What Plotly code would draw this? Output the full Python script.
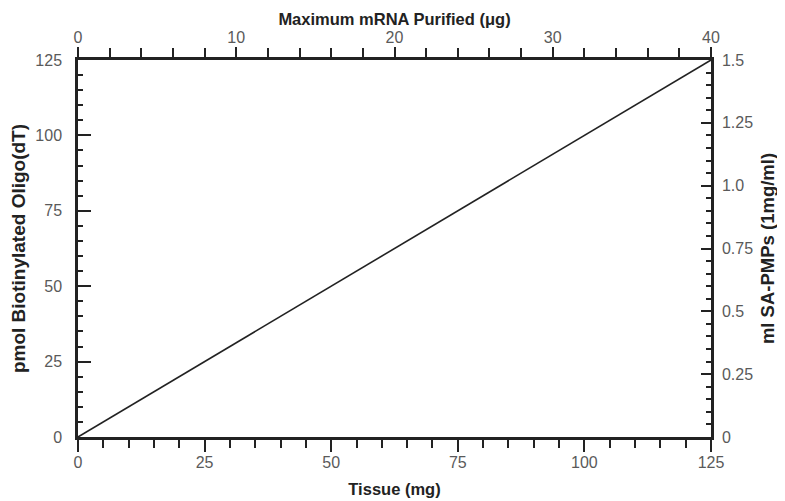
import plotly.graph_objects as go

tissue_mg = [0, 125]
pmol_oligo = [0, 125]
mrna_ug = [0, 40]
sa_pmp_ml = [0, 1.5]

x_ticks = [0, 25, 50, 75, 100, 125]
y_ticks = [0, 25, 50, 75, 100, 125]
top_ticks = [0, 10, 20, 30, 40]
right_ticks = [0, 0.25, 0.5, 0.75, 1.0, 1.25, 1.5]
right_labels = ["0", "0.25", "0.5", "0.75", "1.0", "1.25", "1.5"]

AX = "#222222"
TICKFONT = dict(family="Liberation Sans, Arial, sans-serif", size=16, color="#5a5a5a")
TITLEFONT = dict(family="Liberation Sans Narrow, Arial Narrow, Liberation Sans, sans-serif", size=16.5, color="#222222", weight="bold")
VTITLEFONT = dict(TITLEFONT, size=19)
RTITLEFONT = dict(TITLEFONT, size=18.5)

fig = go.Figure()
fig.add_trace(go.Scatter(x=tissue_mg, y=pmol_oligo, mode="lines",
                         line=dict(color="#222222", width=1.6), showlegend=False, hoverinfo="skip"))
fig.add_trace(go.Scatter(x=mrna_ug, y=sa_pmp_ml, mode="lines", xaxis="x2", yaxis="y2",
                         line=dict(color="rgba(0,0,0,0)", width=0), showlegend=False, hoverinfo="skip"))

common = dict(showgrid=False, zeroline=False, showline=True, linecolor=AX, linewidth=2.5,
              tickcolor=AX, tickwidth=1.5, tickfont=TICKFONT, fixedrange=True, automargin=False)

# page body has an 8px default margin, so the figure is shrunk and shifted accordingly
fig.update_layout(
    width=777, height=493,
    margin=dict(l=70, r=74, t=52, b=64),
    paper_bgcolor="white", plot_bgcolor="white",
    xaxis=dict(range=[0, 125], tickvals=x_ticks, ticks="outside", ticklen=12,
               minor=dict(dtick=5, ticks="outside", ticklen=8, tickcolor=AX, tickwidth=1.5),
               ticklabelstandoff=-3,
               title=dict(text="Tissue (mg)", font=TITLEFONT, standoff=14), **common),
    yaxis=dict(range=[0, 125], tickvals=y_ticks, ticks="inside", ticklen=13,
               minor=dict(dtick=5, ticks="inside", ticklen=5, tickcolor=AX, tickwidth=1.5),
               ticklabelstandoff=10,
               title=dict(text="pmol Biotinylated Oligo(dT)", font=VTITLEFONT, standoff=10), **common),
    xaxis2=dict(range=[0, 40], overlaying="x", side="top", anchor="y", tickvals=top_ticks,
                ticks="outside", ticklen=10,
                minor=dict(dtick=2, ticks="outside", ticklen=9, tickcolor=AX, tickwidth=1.5),
                ticklabelstandoff=-2,
                title=dict(text="Maximum mRNA Purified (μg)", font=TITLEFONT, standoff=0), **common),
    yaxis2=dict(range=[0, 1.5], overlaying="y", side="right", anchor="x", tickvals=right_ticks,
                ticktext=right_labels, ticks="inside", ticklen=10,
                minor=dict(dtick=0.05, ticks="inside", ticklen=5, tickcolor=AX, tickwidth=1.5),
                ticklabelstandoff=5,
                title=dict(text="ml SA-PMPs (1mg/ml)", font=RTITLEFONT, standoff=9), **common),
)

fig.write_html("out.html")
